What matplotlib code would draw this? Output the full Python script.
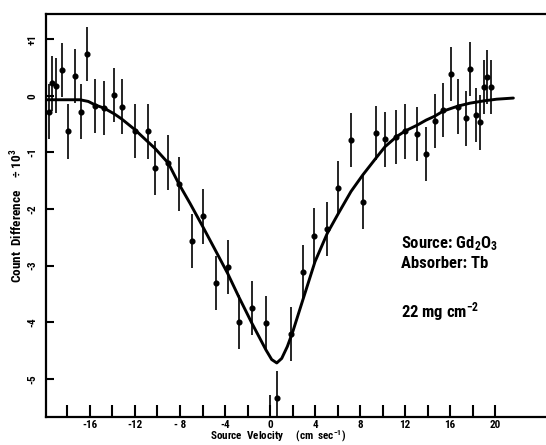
import numpy as np
import matplotlib
matplotlib.use("Agg")
import matplotlib.pyplot as plt
import matplotlib.font_manager as fm

# ---------------- data ----------------
vel = [-19.62, -19.40, -18.99, -18.52, -17.98, -17.36, -16.83, -16.27, -15.56, -14.73,
       -13.84, -13.18, -12.00, -10.87, -10.22, -9.04, -8.09, -6.96, -5.98, -4.80,
       -3.76, -2.78, -1.63, -0.36, 0.00, 0.60, 1.87, 2.91, 3.94, 5.09,
       6.07, 7.20, 8.24, 9.42, 10.22, 11.20, 12.03, 13.07, 13.87, 14.62,
       15.40, 16.12, 16.74, 17.38, 17.80, 18.29, 18.67, 18.98, 19.32, 19.64]
diff = [-0.28, 0.22, 0.18, 0.46, -0.63, 0.35, -0.28, 0.74, -0.18, -0.22,
        0.01, -0.19, -0.62, -0.63, -1.28, -1.18, -1.56, -2.56, -2.13, -3.31,
        -3.03, -4.00, -3.75, -4.01, -5.77, -5.34, -4.21, -3.11, -2.47, -2.35,
        -1.63, -0.78, -1.87, -0.66, -0.77, -0.73, -0.63, -0.67, -1.03, -0.44,
        -0.25, 0.39, -0.19, -0.40, 0.47, -0.34, -0.47, 0.15, 0.33, 0.15]
err = 0.48

fit_v = [-19.92, -16.89, -16.15, -15.56, -14.73, -13.84, -13.18, -12.00, -10.87, -10.22,
         -9.04, -8.09, -7.11, -5.98, -4.80, -3.76, -2.78, -1.63, -0.36, 0.15,
         0.60, 1.04, 1.54, 2.02, 2.96, 4.00, 5.09, 6.07, 7.20, 8.24,
         9.42, 10.22, 11.26, 12.03, 13.07, 13.87, 14.64, 15.40, 16.74, 17.78,
         19.00, 20.15, 21.63]
fit_d = [-0.07, -0.07, -0.10, -0.16, -0.22, -0.32, -0.41, -0.60, -0.81, -0.93,
         -1.19, -1.56, -1.90, -2.31, -2.75, -3.14, -3.55, -4.01, -4.49, -4.66,
         -4.72, -4.64, -4.43, -4.17, -3.58, -2.93, -2.43, -2.08, -1.69, -1.40,
         -1.10, -0.90, -0.72, -0.62, -0.52, -0.43, -0.36, -0.27, -0.18, -0.13,
         -0.09, -0.06, -0.04]

xticks = [-18, -16, -14, -12, -10, -8, -6, -4, -2, 0, 2, 4, 6, 8, 10, 12, 14, 16, 18, 20]
xlabels = ["", "-16", "", "-12", "", "- 8", "", "-4", "", "0", "", "4", "", "8", "", "12", "", "16", "", "20"]
yticks = [1, 0, -1, -2, -3, -4, -5]
ylabels = ["+1", "0", "-1", "-2", "-3", "-4", "-5"]


def pick(names):
    for n in names:
        try:
            fm.findfont(fm.FontProperties(family=n), fallback_to_default=False)
            return n
        except Exception:
            pass
    return "DejaVu Sans"


FONT = pick(["Liberation Sans Narrow", "Roboto Condensed", "Open Sans Condensed", "DejaVu Sans"])
plt.rcParams["font.family"] = [FONT, "DejaVu Sans"]
plt.rcParams["font.weight"] = "bold"
plt.rcParams["mathtext.default"] = "regular"

fig = plt.figure(figsize=(5.46, 4.45), dpi=100)
ax = fig.add_axes([46 / 546, 28 / 445, 1 - 46 / 546, (417 - 14) / 445])

ax.plot(fit_v, fit_d, color="black", lw=2.1, solid_joinstyle="round", solid_capstyle="round", zorder=3)
ax.errorbar(vel, diff, yerr=err, fmt="o", color="black", ms=3.4, elinewidth=1.2,
            capsize=0, zorder=4)

ax.set_xlim(-19.91, 24.53)
ax.set_ylim(-5.675, 1.445)

ax.set_xticks(xticks)
ax.set_xticklabels(xlabels, fontsize=8, fontweight="bold")
ax.set_yticks(yticks)
ax.set_yticklabels(ylabels, fontsize=8, fontweight="bold", rotation=90, va="center")

ax.tick_params(axis="x", direction="in", length=8.5, width=1.5, pad=2)
ax.tick_params(axis="y", direction="in", length=6, width=1.5, pad=6)

for s in ["top", "left", "bottom"]:
    ax.spines[s].set_linewidth(1.6)
ax.spines["right"].set_visible(False)

ax.set_xlabel("Source  Velocity     (cm  sec$^{-1}$)", fontsize=8, fontweight="bold", labelpad=1)
ax.xaxis.set_label_coords(0.465, -0.029)
ax.set_ylabel("Count  Difference    \u00f7 10$^3$", fontsize=9.5, fontweight="bold")
ax.yaxis.set_label_coords(-0.042, 0.5)

ax.text(11.64, -2.69, "Source: Gd$_2$O$_3$", fontsize=12, fontweight="bold", ha="left", va="baseline")
ax.text(11.64, -3.04, "Absorber: Tb", fontsize=12, fontweight="bold", ha="left", va="baseline")
ax.text(11.64, -3.92, "22 mg cm$^{-2}$", fontsize=12, fontweight="bold", ha="left", va="baseline")

fig.savefig("out.png", dpi=100)
